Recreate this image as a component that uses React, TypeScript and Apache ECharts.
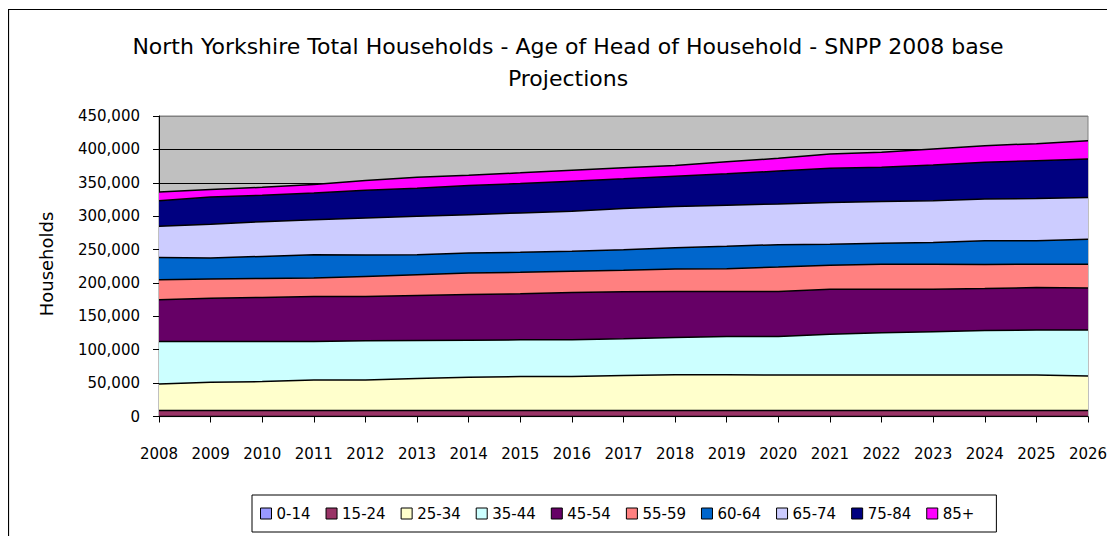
import React, { useEffect, useRef } from "react";
import * as echarts from "echarts";

const years = ["2008","2009","2010","2011","2012","2013","2014","2015","2016","2017","2018","2019","2020","2021","2022","2023","2024","2025","2026"];

const seriesNames = ["0-14","15-24","25-34","35-44","45-54","55-59","60-64","65-74","75-84","85+"];

const age0_14 = [100,100,100,100,100,100,100,100,100,100,100,100,100,100,100,100,100,100,100];
const age15_24 = [8900,8900,8900,8900,8900,8900,8900,9000,9000,9000,9000,9000,9000,9000,9000,9000,9000,9000,9000];
const age25_34 = [39750,42250,43250,45750,45750,47750,49750,50750,50750,52250,53250,53250,53000,53000,53000,53000,53000,53000,51500];
const age35_44 = [63500,61000,60000,57500,58500,57000,55500,55000,55000,55000,56000,57500,57750,61000,63500,65000,66500,67500,69000];
const age45_54 = [62500,65000,66000,67500,66500,67500,68500,69000,71000,70500,69000,67500,67500,67500,65000,63500,63000,63500,63000];
const age55_59 = [30000,28500,28500,27500,30000,31000,32000,32000,31500,32000,33500,34000,36500,36000,37500,37500,36000,35000,35500];
const age60_64 = [33500,31500,33000,35000,32000,30000,30000,30000,30000,31000,32000,33500,33500,31500,31500,32500,35500,35000,37500];
const age65_74 = [46500,50500,52000,52500,55500,57500,57500,59000,60000,61500,61500,61500,61000,62500,62500,62500,62500,63500,62500];
const age75_84 = [38500,41000,39500,40000,41500,42000,43500,44000,45000,44500,45500,47000,49250,51000,51000,53500,55000,56500,57500];
const age85plus = [13000,11000,12000,12500,14500,16500,15500,16000,16500,16500,16000,18000,19000,21500,22500,24000,25000,25500,27500];

const yTicks = { min: 0, max: 450000, interval: 50000 };

const seriesValues = [age0_14, age15_24, age25_34, age35_44, age45_54, age55_59, age60_64, age65_74, age75_84, age85plus];
const seriesColors = ["#9999FF","#993366","#FFFFCC","#CCFFFF","#660066","#FF8080","#0066CC","#CCCCFF","#000080","#FF00FF"];

const FONT = "DejaVu Sans";

export default function App() {
  const ref = useRef<HTMLDivElement>(null);
  useEffect(() => {
    if (!ref.current) return;
    const chart = echarts.init(ref.current, undefined, { renderer: "svg" });
    const splitColors = Array.from({ length: 10 }, (_, i) => (i === 9 ? "#808080" : "#000000"));
    chart.setOption({
      animation: false,
      backgroundColor: "#FFFFFF",
      textStyle: { fontFamily: FONT, color: "#000" },
      graphic: [
        {
          type: "rect",
          silent: true,
          shape: { x: 0.5, y: 1.5, width: 1300, height: 1000 },
          style: { fill: "none", stroke: "#000", lineWidth: 1.2 },
          z: 100,
        },
        {
          type: "text",
          x: 560,
          y: 38,
          style: {
            text: "North Yorkshire Total Households - Age of Head of Household - SNPP 2008 base",
            font: `22px "${FONT}"`,
            fill: "#000",
            textAlign: "center",
            textVerticalAlign: "middle",
          },
        },
        {
          type: "text",
          x: 560,
          y: 70,
          style: {
            text: "Projections",
            font: `22px "${FONT}"`,
            fill: "#000",
            textAlign: "center",
            textVerticalAlign: "middle",
          },
        },
        {
          type: "text",
          x: 38,
          y: 256,
          rotation: Math.PI / 2,
          style: {
            text: "Households",
            font: `18px "${FONT}"`,
            fill: "#000",
            textAlign: "center",
            textVerticalAlign: "middle",
          },
        },
      ],
      legend: {
        left: 244,
        top: 487,
        padding: [11, 22, 11, 8],
        itemGap: 15,
        itemWidth: 11,
        itemHeight: 11,
        borderColor: "#000",
        borderWidth: 1,
        backgroundColor: "#fff",
        textStyle: { fontSize: 15, fontFamily: FONT, color: "#000" },
        data: seriesNames.map((n, i) => ({
          name: n,
          icon: "rect",
          itemStyle: { color: seriesColors[i], borderColor: "#000", borderWidth: 1 },
        })),
      },
      grid: {
        left: 151,
        right: 27,
        top: 108,
        bottom: 119.5,
        show: true,
        backgroundColor: "#C0C0C0",
        borderColor: "#808080",
        borderWidth: 1,
      },
      xAxis: {
        type: "category",
        data: years,
        boundaryGap: false,
        axisLine: { show: true, lineStyle: { color: "#000", width: 1 } },
        axisTick: { show: true, length: 6, lineStyle: { color: "#000" } },
        axisLabel: { margin: 30, fontSize: 15, fontFamily: FONT, color: "#000" },
        splitLine: { show: false },
      },
      yAxis: {
        type: "value",
        min: yTicks.min,
        max: yTicks.max,
        interval: yTicks.interval,
        axisLine: { show: true, lineStyle: { color: "#000", width: 1 } },
        axisTick: { show: true, length: 6, lineStyle: { color: "#000" } },
        axisLabel: {
          margin: 19,
          fontSize: 15,
          fontFamily: FONT,
          color: "#000",
          formatter: (v: number) => v.toLocaleString("en-US"),
        },
        splitLine: { show: true, lineStyle: { color: splitColors, width: 1 } },
      },
      series: seriesNames.map((n, i) => ({
        name: n,
        type: "line",
        stack: "total",
        data: seriesValues[i],
        symbol: "none",
        itemStyle: { color: seriesColors[i], borderColor: "#000", borderWidth: 1 },
        lineStyle: { color: "#000", width: 1.5 },
        areaStyle: { color: seriesColors[i], opacity: 1 },
      })),
    });
    return () => chart.dispose();
  }, []);
  return <div ref={ref} style={{ width: 1107, height: 528 }} />;
}
